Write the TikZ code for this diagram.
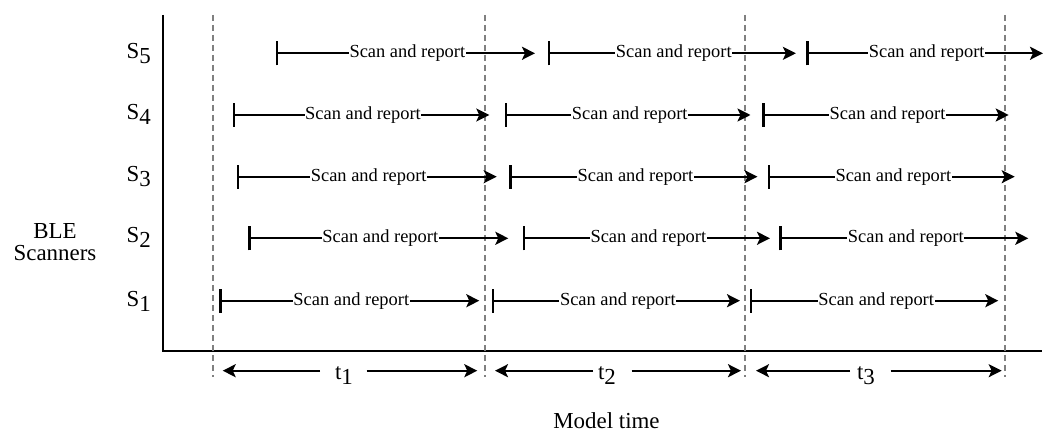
\documentclass[tikz,border=0pt]{standalone}
\usepackage{fontspec}
\setmainfont{Liberation Serif}
\usetikzlibrary{arrows.meta}
\begin{document}
\begin{tikzpicture}[x=1bp,y=-1bp,
  axisline/.style={line width=2.2bp,black},
  guide/.style={draw=black!50,line width=1.8bp,dash pattern=on 6bp off 4bp},
  span/.style={line width=2.2bp,{Bar[width=24bp]}-{Stealth[length=13bp,width=13bp,inset=3bp]}},
  period/.style={line width=2.2bp,-{Stealth[length=13bp,width=13bp,inset=3bp]}},
  lbl/.style={font=\fontsize{18.5}{22}\selectfont,fill=white,inner sep=0.6bp,xshift=2bp},
  big/.style={font=\fontsize{23}{23}\selectfont,inner sep=0pt},
]
\useasboundingbox (0,0) rectangle (1047,435);

% axes
\coordinate (ytop) at (163.3,15);
\coordinate (xend) at (1041.7,350.7);
\draw[axisline] (ytop) |- (xend);

% period boundaries
\foreach \x [count=\k] in {212.7,485,745,1005}{
  \coordinate (gt\k) at (\x,15);
  \coordinate (gb\k) at (\x,377);
  \draw[guide] (gt\k) -- (gb\k);
}

% scanner labels
\foreach \n/\y in {5/58.3,4/120,3/181.7,2/243,1/306.7}{
  \node[big,anchor=base west] (lab\n) at (126.5,\y) {S\raisebox{-5bp}{\n}};
}
\node[big,align=center] (who) at (55,242.5) {BLE\\[-1bp]Scanners};

% scan-and-report intervals, one row per scanner
\foreach \s/\e [count=\k] in {275.7/535,547.7/795.9,806.4/1043}{
  \coordinate (r5s\k) at (\s,53.3); \coordinate (r5e\k) at (\e,53.3);
  \draw[span] (r5s\k) -- node[lbl]{Scan and report} (r5e\k);
}
\foreach \s/\e [count=\k] in {232.7/489.3,505/750.5,762.4/1008.7}{
  \coordinate (r4s\k) at (\s,115); \coordinate (r4e\k) at (\e,115);
  \draw[span] (r4s\k) -- node[lbl]{Scan and report} (r4e\k);
}
\foreach \s/\e [count=\k] in {236.7/496.7,509.3/757.5,768/1014.7}{
  \coordinate (r3s\k) at (\s,176.7); \coordinate (r3e\k) at (\e,176.7);
  \draw[span] (r3s\k) -- node[lbl]{Scan and report} (r3e\k);
}
\foreach \s/\e [count=\k] in {248.3/508.3,522.7/770,779.3/1028.3}{
  \coordinate (r2s\k) at (\s,238.3); \coordinate (r2e\k) at (\e,238.3);
  \draw[span] (r2s\k) -- node[lbl]{Scan and report} (r2e\k);
}
\foreach \s/\e [count=\k] in {219.3/479.3,491.7/740,750/998.3}{
  \coordinate (r1s\k) at (\s,300.7); \coordinate (r1e\k) at (\e,300.7);
  \draw[span] (r1s\k) -- node[lbl]{Scan and report} (r1e\k);
}

% model time periods
\foreach \a/\b/\c/\d/\m [count=\k] in
  {222.7/320/366.7/477.3/344, 495/593/631.7/741/607, 756/850/890.7/1001.7/866}{
  \coordinate (pl\k) at (\a,370.7); \coordinate (pm\k) at (\b,370.7);
  \coordinate (pn\k) at (\c,370.7); \coordinate (pr\k) at (\d,370.7);
  \draw[period] (pm\k) -- (pl\k);
  \draw[period] (pn\k) -- (pr\k);
  \node[big,anchor=base] (tl\k) at (\m,380) {t\raisebox{-5bp}{\k}};
}

\node[big] (mt) at (606.5,421) {Model time};
\end{tikzpicture}
\end{document}
